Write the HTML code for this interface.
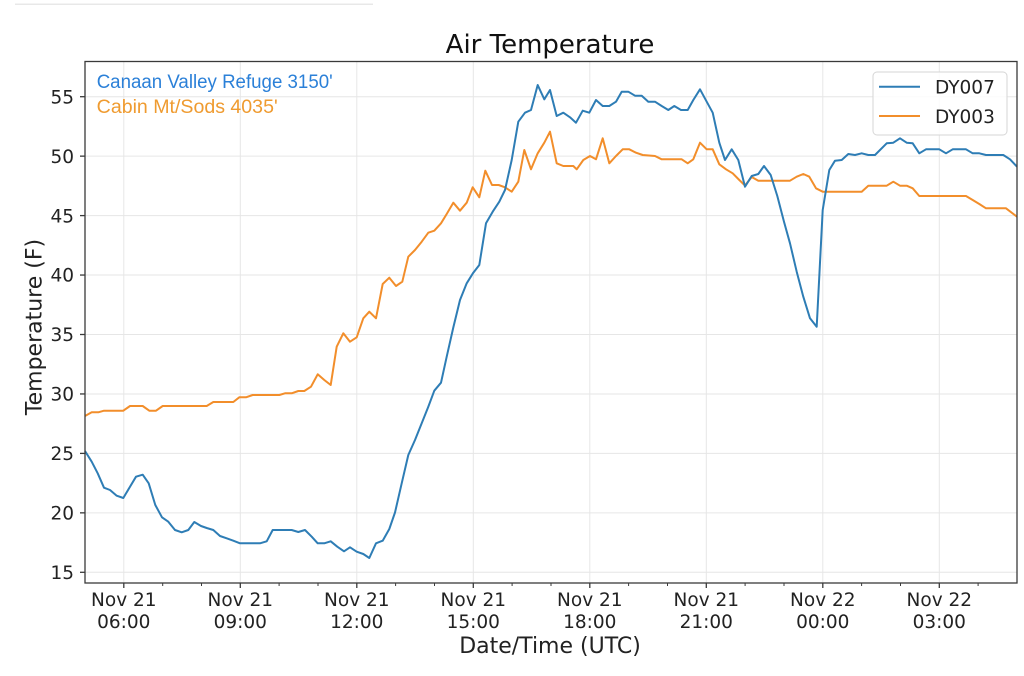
<!DOCTYPE html>
<html>
<head>
<meta charset="utf-8">
<style>
html,body{margin:0;padding:0;background:#fff;}
svg{display:block;}
</style>
</head>
<body>
<svg width="1024" height="676" viewBox="0 0 1024 676" xmlns="http://www.w3.org/2000/svg">
<rect width="1024" height="676" fill="#fff"/>
<line x1="15" y1="4.3" x2="373" y2="4.3" stroke="#e8e8e8" stroke-width="1.5"/>

<!-- grid -->
<g stroke="#e6e6e6" stroke-width="1">
<line x1="85" y1="572.3" x2="1017" y2="572.3"/>
<line x1="85" y1="512.85" x2="1017" y2="512.85"/>
<line x1="85" y1="453.4" x2="1017" y2="453.4"/>
<line x1="85" y1="393.95" x2="1017" y2="393.95"/>
<line x1="85" y1="334.5" x2="1017" y2="334.5"/>
<line x1="85" y1="275.05" x2="1017" y2="275.05"/>
<line x1="85" y1="215.6" x2="1017" y2="215.6"/>
<line x1="85" y1="156.15" x2="1017" y2="156.15"/>
<line x1="85" y1="96.7" x2="1017" y2="96.7"/>
<line x1="123.8" y1="61.5" x2="123.8" y2="583"/>
<line x1="240.3" y1="61.5" x2="240.3" y2="583"/>
<line x1="356.8" y1="61.5" x2="356.8" y2="583"/>
<line x1="473.3" y1="61.5" x2="473.3" y2="583"/>
<line x1="589.8" y1="61.5" x2="589.8" y2="583"/>
<line x1="706.3" y1="61.5" x2="706.3" y2="583"/>
<line x1="822.8" y1="61.5" x2="822.8" y2="583"/>
<line x1="939.3" y1="61.5" x2="939.3" y2="583"/>
</g>

<!-- series -->
<polyline fill="none" stroke="#f28e2b" stroke-width="2" stroke-linejoin="round" points="85,416 91.7,412.3 98.3,412.3 104,410.7 123.3,410.7 130,406 142.7,406 149.3,410.7 156,410.7 162.7,406 206.7,406 213.3,402 233.3,402 239.3,397.3 246,397.3 252.7,395 279.3,395 285,393.3 291.7,393.3 298.3,391 304.3,391 311,386.7 317.7,374.3 324.3,380 330.7,385 336.7,346.7 343.3,333.3 350,341.7 356.7,337.3 363.3,318.3 369.3,311.7 376,318.3 382.7,284 389.3,277.7 396,286 402.3,281.7 408.3,256.7 415,250 421.7,241.7 428.3,232.7 434.3,230.7 441,223.3 446.7,214 453.3,202.7 460,210.7 466.7,202.7 472.7,187.3 479.3,197.3 485.3,170.7 492,185 498.7,185 505,187.3 511.7,191.7 518.3,181.7 524.3,150 531,169.3 537.7,153.3 544.3,142.7 550,131.7 556.7,163.3 563.3,166 573.3,166 576.7,169.3 583.3,160 590,156 596,159.3 602.7,138.3 609.3,163.3 616,156 622.7,149.3 629.3,149.3 636,152.7 642.7,155 655,156 661.7,159.3 681.7,159.3 687.7,163.3 693.3,159.3 700,142.7 706.7,149.3 712.7,149.3 719.3,164.3 726,169.3 732.7,173.3 739.3,180 745,185.5 751.7,177 758.3,180.7 790,180.7 796.7,176.7 803.3,174 809.3,176.7 816,188.3 822.7,191.7 861.7,191.7 868.3,185.7 886.7,185.7 893.3,181.7 900,185.7 906.7,185.7 912.7,188.3 919.3,196 966,196 972.7,200 979.3,204 986,208.3 1006,208.3 1017,216.7"/>
<polyline fill="none" stroke="#2e7db5" stroke-width="2" stroke-linejoin="round" points="85,451 91.7,461.7 97.7,473.3 104,487.7 110,490 116.7,495.7 123.3,498 130,486.7 136,476.7 142.7,474.7 148.7,483.3 155.3,505 162,517.3 168.3,521.7 175,530 181.7,532.3 188.3,530 194.3,522 201,526 206.7,528 213.3,530 220,536 226.7,538.3 233.3,540.7 240,543.3 246.7,543.3 253.3,543.3 260,543.3 266.7,541.3 272.7,530 279.3,530 286,530 291.7,530 298.3,532 305,530 311.7,536.7 317.7,543.3 324.3,543.3 330.7,541.3 337.3,546.7 344,551.3 350,547.3 356.7,551.7 363.3,554 369.3,558 376,543.3 382.7,540.7 389.3,529 395,512.5 401.7,483.3 408.3,455 415,440 421.7,423.3 428.3,406.7 434.3,390.7 441,382.7 446.7,356.7 453.3,327.5 460,300 466.7,283.3 473.3,272.7 479.3,265 486,223.3 492.7,211.7 499.3,201.7 505,190 511.7,160 518.3,121.7 525,112.7 531,110 537.7,85 544.3,99.3 550,90 556.7,116 563.3,112.7 570,117.3 576,122.7 582.7,110.7 589.3,112.7 596,100 602.7,106 609.3,106 616,101.7 621.7,91.7 628.3,91.7 635,95.7 641.7,95.7 648.3,101.7 655,101.7 661.7,106 668.3,110 674.3,106 681,110 687.7,110 693.3,100 700,89.3 706.7,101.7 712.7,112.7 719.3,142.7 725,160 731.7,149.3 738.3,160 745,186.7 751.7,176 758.3,174 764,166 770.7,175 777.3,196 784,221.7 790,243.3 796.7,271.7 803.3,296.7 810,318.3 816.7,326.7 822.7,210 829.3,170 835,160.7 841.7,160 848.3,154 855,155 861.7,153.3 868.3,155 875,155 886.7,143.3 893.3,142.7 900,138.3 906.7,142.7 912.7,143.3 919.3,153.3 926,149.3 939.3,149.3 946,153.3 952.7,149.3 966,149.3 972.7,153.3 979.3,153.3 986,155 1003.3,155 1010,159.3 1017,166.7"/>

<!-- spines -->
<rect x="85" y="61.5" width="932" height="521.5" fill="none" stroke="#3a3a3a" stroke-width="1.3"/>

<!-- y ticks -->
<g stroke="#3a3a3a" stroke-width="1.3">
<line x1="80" y1="572.3" x2="85" y2="572.3"/>
<line x1="80" y1="512.85" x2="85" y2="512.85"/>
<line x1="80" y1="453.4" x2="85" y2="453.4"/>
<line x1="80" y1="393.95" x2="85" y2="393.95"/>
<line x1="80" y1="334.5" x2="85" y2="334.5"/>
<line x1="80" y1="275.05" x2="85" y2="275.05"/>
<line x1="80" y1="215.6" x2="85" y2="215.6"/>
<line x1="80" y1="156.15" x2="85" y2="156.15"/>
<line x1="80" y1="96.7" x2="85" y2="96.7"/>
<!-- x major ticks -->
<line x1="123.8" y1="583" x2="123.8" y2="588"/>
<line x1="240.3" y1="583" x2="240.3" y2="588"/>
<line x1="356.8" y1="583" x2="356.8" y2="588"/>
<line x1="473.3" y1="583" x2="473.3" y2="588"/>
<line x1="589.8" y1="583" x2="589.8" y2="588"/>
<line x1="706.3" y1="583" x2="706.3" y2="588"/>
<line x1="822.8" y1="583" x2="822.8" y2="588"/>
<line x1="939.3" y1="583" x2="939.3" y2="588"/>
</g>
<g stroke="#3a3a3a" stroke-width="1">
<line x1="162.7" y1="583" x2="162.7" y2="586"/>
<line x1="201.5" y1="583" x2="201.5" y2="586"/>
<line x1="279.1" y1="583" x2="279.1" y2="586"/>
<line x1="318" y1="583" x2="318" y2="586"/>
<line x1="395.6" y1="583" x2="395.6" y2="586"/>
<line x1="434.5" y1="583" x2="434.5" y2="586"/>
<line x1="512.1" y1="583" x2="512.1" y2="586"/>
<line x1="551" y1="583" x2="551" y2="586"/>
<line x1="628.6" y1="583" x2="628.6" y2="586"/>
<line x1="667.5" y1="583" x2="667.5" y2="586"/>
<line x1="745.1" y1="583" x2="745.1" y2="586"/>
<line x1="784" y1="583" x2="784" y2="586"/>
<line x1="861.6" y1="583" x2="861.6" y2="586"/>
<line x1="900.5" y1="583" x2="900.5" y2="586"/>
<line x1="978.1" y1="583" x2="978.1" y2="586"/>
</g>

<!-- y tick labels -->
<g font-family="DejaVu Sans, Liberation Sans, sans-serif" font-size="18.5" fill="#222" text-anchor="end">
<text x="74" y="579">15</text>
<text x="74" y="519.5">20</text>
<text x="74" y="460">25</text>
<text x="74" y="400.6">30</text>
<text x="74" y="341.2">35</text>
<text x="74" y="281.7">40</text>
<text x="74" y="222.3">45</text>
<text x="74" y="162.8">50</text>
<text x="74" y="103.4">55</text>
</g>

<!-- x tick labels -->
<g font-family="DejaVu Sans, Liberation Sans, sans-serif" font-size="18.5" fill="#222" text-anchor="middle">
<text x="123.8" y="606">Nov 21</text><text x="123.8" y="628">06:00</text>
<text x="240.3" y="606">Nov 21</text><text x="240.3" y="628">09:00</text>
<text x="356.8" y="606">Nov 21</text><text x="356.8" y="628">12:00</text>
<text x="473.3" y="606">Nov 21</text><text x="473.3" y="628">15:00</text>
<text x="589.8" y="606">Nov 21</text><text x="589.8" y="628">18:00</text>
<text x="706.3" y="606">Nov 21</text><text x="706.3" y="628">21:00</text>
<text x="822.8" y="606">Nov 22</text><text x="822.8" y="628">00:00</text>
<text x="939.3" y="606">Nov 22</text><text x="939.3" y="628">03:00</text>
</g>

<!-- titles -->
<text x="550" y="53" font-family="DejaVu Sans, Liberation Sans, sans-serif" font-size="26" fill="#111" text-anchor="middle">Air Temperature</text>
<text x="550" y="653" font-family="DejaVu Sans, Liberation Sans, sans-serif" font-size="22" fill="#222" text-anchor="middle">Date/Time (UTC)</text>
<text transform="translate(41.5,327) rotate(-90)" font-family="DejaVu Sans, Liberation Sans, sans-serif" font-size="22" fill="#222" text-anchor="middle">Temperature (F)</text>

<!-- annotations -->
<text x="96.7" y="88" font-family="Liberation Sans, sans-serif" font-size="19" fill="#2b80d8" textLength="236" lengthAdjust="spacingAndGlyphs">Canaan Valley Refuge 3150'</text>
<text x="96.7" y="113" font-family="Liberation Sans, sans-serif" font-size="19" fill="#ef9b30" textLength="181" lengthAdjust="spacingAndGlyphs">Cabin Mt/Sods 4035'</text>

<!-- legend -->
<rect x="873" y="72" width="134" height="63" rx="4" ry="4" fill="#fff" fill-opacity="0.85" stroke="#d6d6d6" stroke-width="1"/>
<line x1="879" y1="86.7" x2="920" y2="86.7" stroke="#2e7db5" stroke-width="2"/>
<line x1="879" y1="116" x2="920" y2="116" stroke="#f28e2b" stroke-width="2"/>
<g font-family="DejaVu Sans, Liberation Sans, sans-serif" font-size="18.5" fill="#222">
<text x="935" y="93.5">DY007</text>
<text x="935" y="122.8">DY003</text>
</g>
</svg>
</body>
</html>
